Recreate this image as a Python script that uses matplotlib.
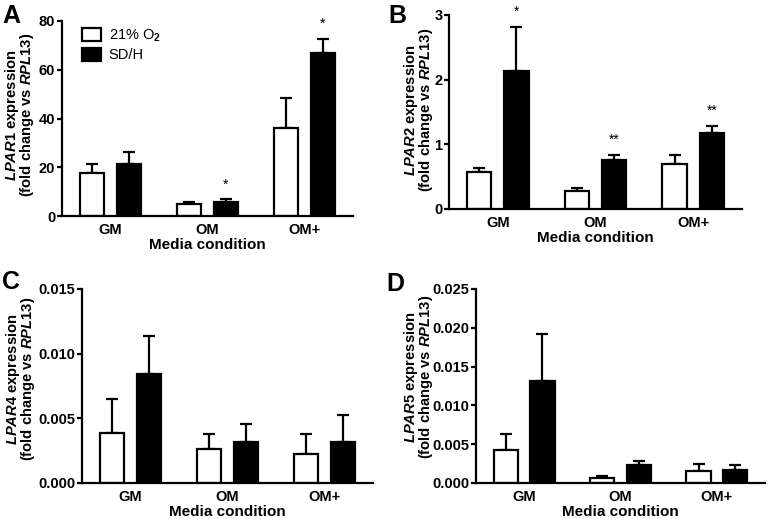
import matplotlib
matplotlib.use("Agg")
import matplotlib.pyplot as plt
import numpy as np

plt.rcParams['font.family'] = ['Liberation Sans', 'DejaVu Sans']
plt.rcParams['mathtext.fontset'] = 'custom'
plt.rcParams['mathtext.rm'] = 'Liberation Sans:bold'
plt.rcParams['mathtext.it'] = 'Liberation Sans:italic:bold'
plt.rcParams['mathtext.bf'] = 'Liberation Sans:bold'

categories = ["GM", "OM", "OM+"]
series_names = ["21% O$_2$", "SD/H"]

# Panel A: LPAR1
a_normoxia = [17.8, 4.8, 36.0]
a_normoxia_err = [3.5, 0.8, 12.3]
a_sdh = [21.5, 5.9, 66.7]
a_sdh_err = [4.8, 0.9, 6.1]
a_stars = ["", "*", "*"]

# Panel B: LPAR2
b_normoxia = [0.566, 0.283, 0.695]
b_normoxia_err = [0.067, 0.041, 0.134]
b_sdh = [2.14, 0.762, 1.18]
b_sdh_err = [0.68, 0.067, 0.11]
b_stars = ["*", "**", "**"]

# Panel C: LPAR4
c_normoxia = [0.00388, 0.00266, 0.00228]
c_normoxia_err = [0.00264, 0.00114, 0.00150]
c_sdh = [0.0084, 0.00316, 0.00316]
c_sdh_err = [0.0030, 0.00144, 0.00212]
c_stars = ["", "", ""]

# Panel D: LPAR5
d_normoxia = [0.0042, 0.00064, 0.00159]
d_normoxia_err = [0.0021, 0.0003, 0.00081]
d_sdh = [0.01308, 0.00227, 0.00163]
d_sdh_err = [0.0061, 0.00052, 0.00064]
d_stars = ["", "", ""]

a_ticks = [0, 20, 40, 60, 80]
b_ticks = [0, 1, 2, 3]
c_ticks = [0.000, 0.005, 0.010, 0.015]
d_ticks = [0.000, 0.005, 0.010, 0.015, 0.020, 0.025]

fig = plt.figure(figsize=(7.71, 5.19), dpi=100)
W, H = 771, 519

def axes_px(l, r, t, b):
    return fig.add_axes([l / W, 1 - b / H, (r - l) / W, (b - t) / H])

panels = [
    dict(rect=(62, 353, 21, 216), n=a_normoxia, ne=a_normoxia_err, s=a_sdh, se=a_sdh_err,
         stars=a_stars, ticks=a_ticks, fmt="{:.0f}", gene="LPAR1", letter="A",
         letter_xy=(2, 4), label_base=(16.0, 31.0), label_cy=115, legend=True),
    dict(rect=(449, 742, 15, 209), n=b_normoxia, ne=b_normoxia_err, s=b_sdh, se=b_sdh_err,
         stars=b_stars, ticks=b_ticks, fmt="{:.0f}", gene="LPAR2", letter="B",
         letter_xy=(388, 4), label_base=(415.0, 430.0), label_cy=110, legend=False),
    dict(rect=(82, 373, 289, 483), n=c_normoxia, ne=c_normoxia_err, s=c_sdh, se=c_sdh_err,
         stars=c_stars, ticks=c_ticks, fmt="{:.3f}", gene="LPAR4", letter="C",
         letter_xy=(2, 270), label_base=(17.0, 32.0), label_cy=379, legend=False),
    dict(rect=(476, 765, 289, 483), n=d_normoxia, ne=d_normoxia_err, s=d_sdh, se=d_sdh_err,
         stars=d_stars, ticks=d_ticks, fmt="{:.3f}", gene="LPAR5", letter="D",
         letter_xy=(386, 272), label_base=(415.0, 430.0), label_cy=377, legend=False),
]

x = np.arange(len(categories))
off = 0.19
bw = 0.25
lw = 1.6

for p in panels:
    l, r, t, b = p["rect"]
    ax = axes_px(l, r, t, b)
    xs_n = x - off
    xs_s = x + off
    ax.errorbar(xs_n, p["n"], yerr=[np.zeros(3), p["ne"]], fmt="none", ecolor="black",
                elinewidth=lw, capsize=4.5, capthick=lw, zorder=1)
    ax.errorbar(xs_s, p["s"], yerr=[np.zeros(3), p["se"]], fmt="none", ecolor="black",
                elinewidth=lw, capsize=4.5, capthick=lw, zorder=1)
    ax.bar(xs_n, p["n"], width=bw, color="white", edgecolor="black", linewidth=lw,
           zorder=2, label=series_names[0])
    ax.bar(xs_s, p["s"], width=bw, color="black", edgecolor="black", linewidth=lw,
           zorder=2, label=series_names[1])
    for xi, v, e, st in zip(xs_s, p["s"], p["se"], p["stars"]):
        if st:
            ax.annotate(st, xy=(xi, v + e), xytext=(0, 8), textcoords="offset points",
                        ha="center", va="baseline", fontsize=10, fontweight="normal",
                        annotation_clip=False)
    ax.set_xlim(-0.5, 2.5)
    ax.set_ylim(p["ticks"][0], p["ticks"][-1])
    ax.set_yticks(p["ticks"])
    ax.set_yticklabels([p["fmt"].format(v) for v in p["ticks"]], fontsize=10.5,
                       fontweight="bold")
    ax.set_xticks(x)
    ax.set_xticklabels(categories, fontsize=10.5, fontweight="bold")
    ax.tick_params(axis="x", length=0, pad=5)
    ax.tick_params(axis="y", length=3.6, width=lw, direction="out", pad=1.2)
    for sp in ["top", "right"]:
        ax.spines[sp].set_visible(False)
    for sp in ["left", "bottom"]:
        ax.spines[sp].set_linewidth(lw)
    ax.set_xlabel("Media condition", fontsize=11, fontweight="bold", labelpad=1)
    b1, b2 = p["label_base"]
    cy = 1 - p["label_cy"] / H
    fig.text(b1 / W, cy, "$\\mathit{" + p["gene"] + "}$ expression",
             rotation=90, rotation_mode="anchor", ha="center", va="baseline",
             fontsize=10.6, fontweight="bold")
    fig.text(b2 / W, cy, "(fold change vs $\\mathit{RPL13}$)",
             rotation=90, rotation_mode="anchor", ha="center", va="baseline",
             fontsize=10.6, fontweight="bold")
    lx, ly = p["letter_xy"]
    fig.text(lx / W, 1 - ly / H, p["letter"], fontsize=18, fontweight="bold",
             ha="left", va="top")
    if p["legend"]:
        leg = ax.legend(loc="upper left", bbox_to_anchor=(0.05, 0.995), frameon=False,
                        fontsize=10.5, handlelength=1.3, handleheight=1.0,
                        handletextpad=0.5, labelspacing=0.25, borderaxespad=0)
        for txt in leg.get_texts():
            txt.set_fontweight("normal")

fig.savefig("out.png", dpi=100)
